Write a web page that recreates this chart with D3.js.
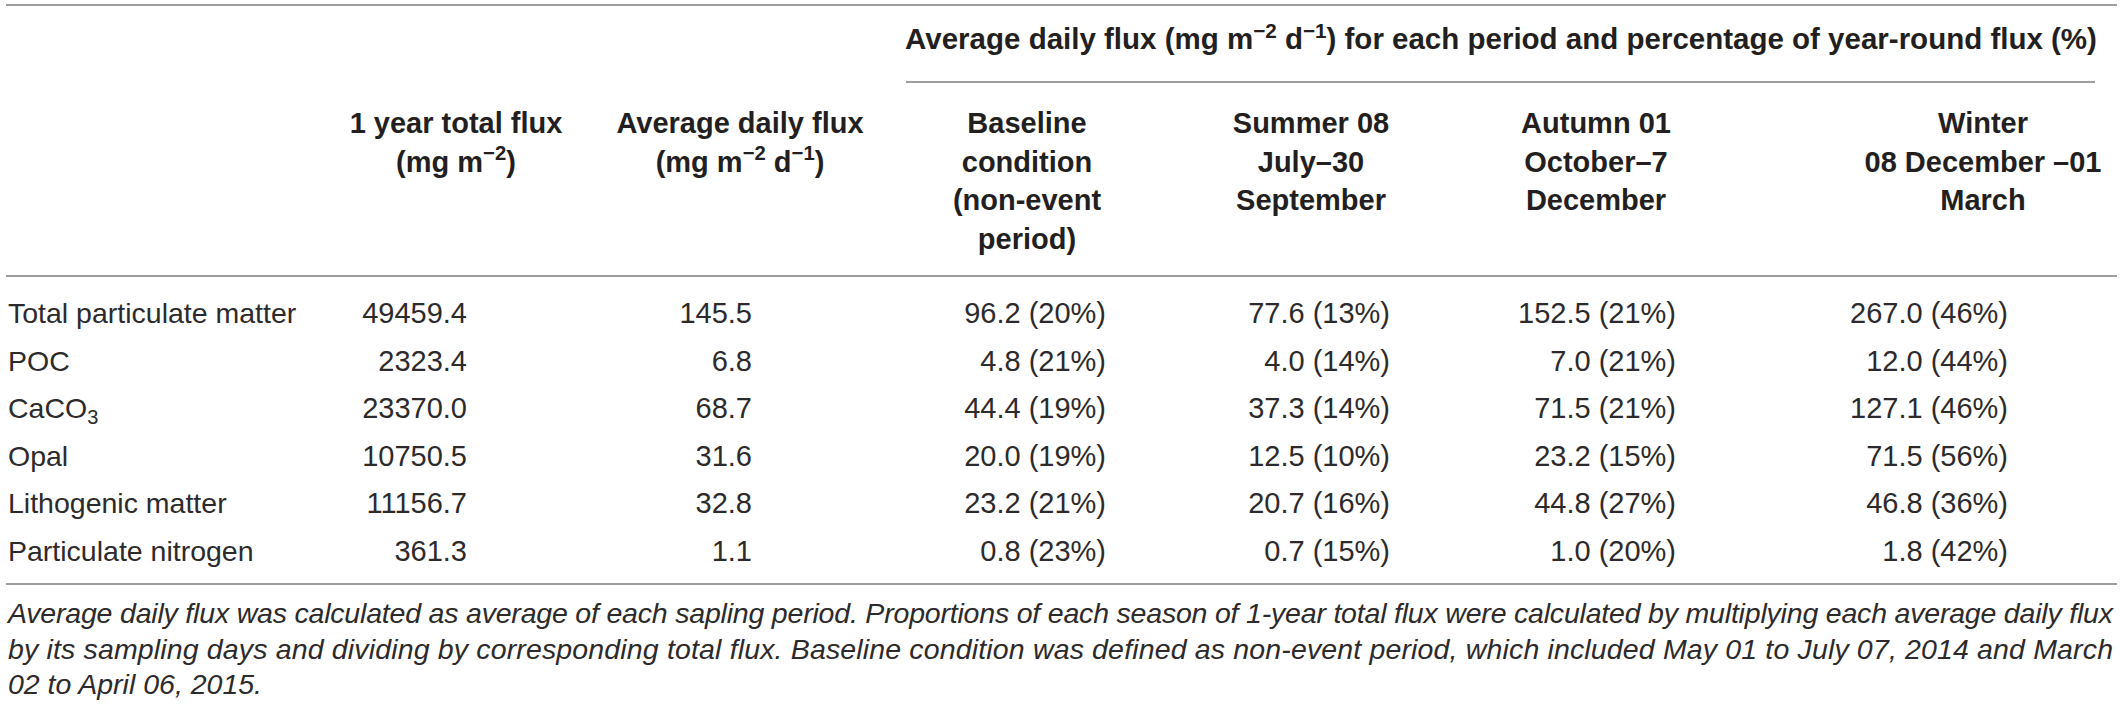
<!DOCTYPE html>
<html>
<head>
<meta charset="utf-8">
<script src="https://cdn.jsdelivr.net/npm/d3@7"></script>
<style>
  body { margin: 0; background: #fff; }
  svg { display: block; }
</style>
</head>
<body>
<div id="vis"></div>
<script>
// table values
let rowLabels = ["Total particulate matter", "POC", "CaCO3", "Opal",
                 "Lithogenic matter", "Particulate nitrogen"];
let totalFlux = [49459.4, 2323.4, 23370.0, 10750.5, 11156.7, 361.3];
let dailyFlux = [145.5, 6.8, 68.7, 31.6, 32.8, 1.1];
let baselineFlux = [96.2, 4.8, 44.4, 20.0, 23.2, 0.8];
let baselinePct = [20, 21, 19, 19, 21, 23];
let summerFlux = [77.6, 4.0, 37.3, 12.5, 20.7, 0.7];
let summerPct = [13, 14, 14, 10, 16, 15];
let autumnFlux = [152.5, 7.0, 71.5, 23.2, 44.8, 1.0];
let autumnPct = [21, 21, 21, 15, 27, 20];
let winterFlux = [267.0, 12.0, 127.1, 71.5, 46.8, 1.8];
let winterPct = [46, 44, 46, 56, 36, 42];

// header texts; {s: ...} is a superscript piece
let groupTitle = ["Average daily flux (mg m", {s: "\u22122"}, " d", {s: "\u22121"},
                  ") for each period and percentage of year-round flux (%)"];
let colHeaders = [
  [["1 year total flux"], ["(mg m", {s: "\u22122"}, ")"]],
  [["Average daily flux"], ["(mg m", {s: "\u22122"}, " d", {s: "\u22121"}, ")"]],
  [["Baseline"], ["condition"], ["(non-event"], ["period)"]],
  [["Summer 08"], ["July\u201330"], ["September"]],
  [["Autumn 01"], ["October\u20137"], ["December"]],
  [["Winter"], ["08 December \u201301"], ["March"]]
];
let footnote = [
  "Average daily flux was calculated as average of each sapling period. Proportions of each season of 1-year total flux were calculated by multiplying each average daily flux",
  "by its sampling days and dividing by corresponding total flux. Baseline condition was defined as non-event period, which included May 01 to July 07, 2014 and March",
  "02 to April 06, 2015."
];

let width = 2120;
let height = 708;
let font = "'Liberation Sans', Arial, Helvetica, sans-serif";
let ink = "#231f20";
let bodyInk = "#2d2a2b";
let ruleColor = "#7d7d7d";

// column layout: header centre and right edge of the cell values
let colCenter = [456, 740, 1027, 1311, 1596, 1983];
let colRight = [467, 752, 1106, 1390, 1676, 2008];

let svg = d3.select("#vis")
        .append("svg")
        .attr("width", width)
        .attr("height", height);

svg.append("rect")
  .attr("width", width)
  .attr("height", height)
  .attr("fill", "#fff");

function addRich(g, parts, x, y, size, anchor, weight) {
  let t = g.append("text")
          .attr("x", x)
          .attr("y", y)
          .attr("text-anchor", anchor)
          .attr("font-family", font)
          .attr("font-size", size)
          .attr("font-weight", weight || "normal")
          .attr("fill", ink);
  let raised = false;
  for(let p of parts) {
    if(typeof p == "string") {
      t.append("tspan")
        .attr("dy", raised ? size * 0.38 : 0)
        .text(p);
      raised = false;
    } else {
      t.append("tspan")
        .attr("font-size", size * 0.7)
        .attr("dy", -size * 0.38)
        .text(p.s);
      raised = true;
    }
  }
  return t;
}

function hRule(x1, x2, y) {
  svg.append("line")
    .attr("x1", x1).attr("x2", x2)
    .attr("y1", y).attr("y2", y)
    .attr("stroke", ruleColor)
    .attr("stroke-width", 1.6);
}

// rules
hRule(6, 2117, 5);
hRule(906, 2095, 82);
hRule(6, 2117, 276);
hRule(6, 2117, 584);

// header
let head = svg.append("g").attr("id", "header");
addRich(head, groupTitle, (904 + 2098) / 2, 49, 29.5, "middle", "bold");

let headLine = d3.scaleLinear()
        .domain([0, 1])
        .range([133, 171.5]);

colHeaders.forEach((lines, c) => {
  lines.forEach((parts, i) => {
    addRich(head, parts, colCenter[c], headLine(i), 29, "middle", "bold");
  });
});

// body
let yRow = d3.scalePoint()
        .domain(rowLabels)
        .range([323, 561]);

let fmt = d3.format(".1f");
let pctCell = (v, p) => fmt(v) + " (" + p + "%)";

let columns = [
  rowLabels.map((d, i) => fmt(totalFlux[i])),
  rowLabels.map((d, i) => fmt(dailyFlux[i])),
  rowLabels.map((d, i) => pctCell(baselineFlux[i], baselinePct[i])),
  rowLabels.map((d, i) => pctCell(summerFlux[i], summerPct[i])),
  rowLabels.map((d, i) => pctCell(autumnFlux[i], autumnPct[i])),
  rowLabels.map((d, i) => pctCell(winterFlux[i], winterPct[i]))
];

let body = svg.append("g").attr("id", "body");

body.selectAll("text.label")
  .data(rowLabels)
  .join("text")
  .attr("class", "label")
  .attr("x", 8)
  .attr("y", d => yRow(d))
  .attr("font-family", font)
  .attr("font-size", 28.5)
  .attr("fill", bodyInk)
  .each(function(d) {
    // CaCO3 gets a subscript 3
    let t = d3.select(this);
    if(d == "CaCO3") {
      t.append("tspan").text("CaCO");
      t.append("tspan")
        .attr("font-size", 20)
        .attr("dy", 6)
        .text("3");
    } else {
      t.text(d);
    }
  });

columns.forEach((cells, c) => {
  body.append("g")
    .attr("class", "col" + c)
    .selectAll("text")
    .data(cells)
    .join("text")
    .attr("x", colRight[c])
    .attr("y", (d, i) => yRow(rowLabels[i]))
    .attr("text-anchor", "end")
    .attr("font-family", font)
    .attr("font-size", 29)
    .attr("fill", bodyInk)
    .text(d => d);
});

// footnote, first two lines justified to the table width
let note = svg.append("g").attr("id", "footnote");
let noteLine = d3.scaleLinear()
        .domain([0, 1])
        .range([623, 658.5]);

note.selectAll("text")
  .data(footnote)
  .join("text")
  .attr("x", 8)
  .attr("y", (d, i) => noteLine(i))
  .attr("font-family", font)
  .attr("font-size", 28.5)
  .attr("font-style", "italic")
  .attr("fill", bodyInk)
  .text(d => d)
  .each(function(d, i) {
    if(i < footnote.length - 1) {
      d3.select(this)
        .attr("textLength", 2105)
        .attr("lengthAdjust", "spacing");
    }
  });
</script>
</body>
</html>
